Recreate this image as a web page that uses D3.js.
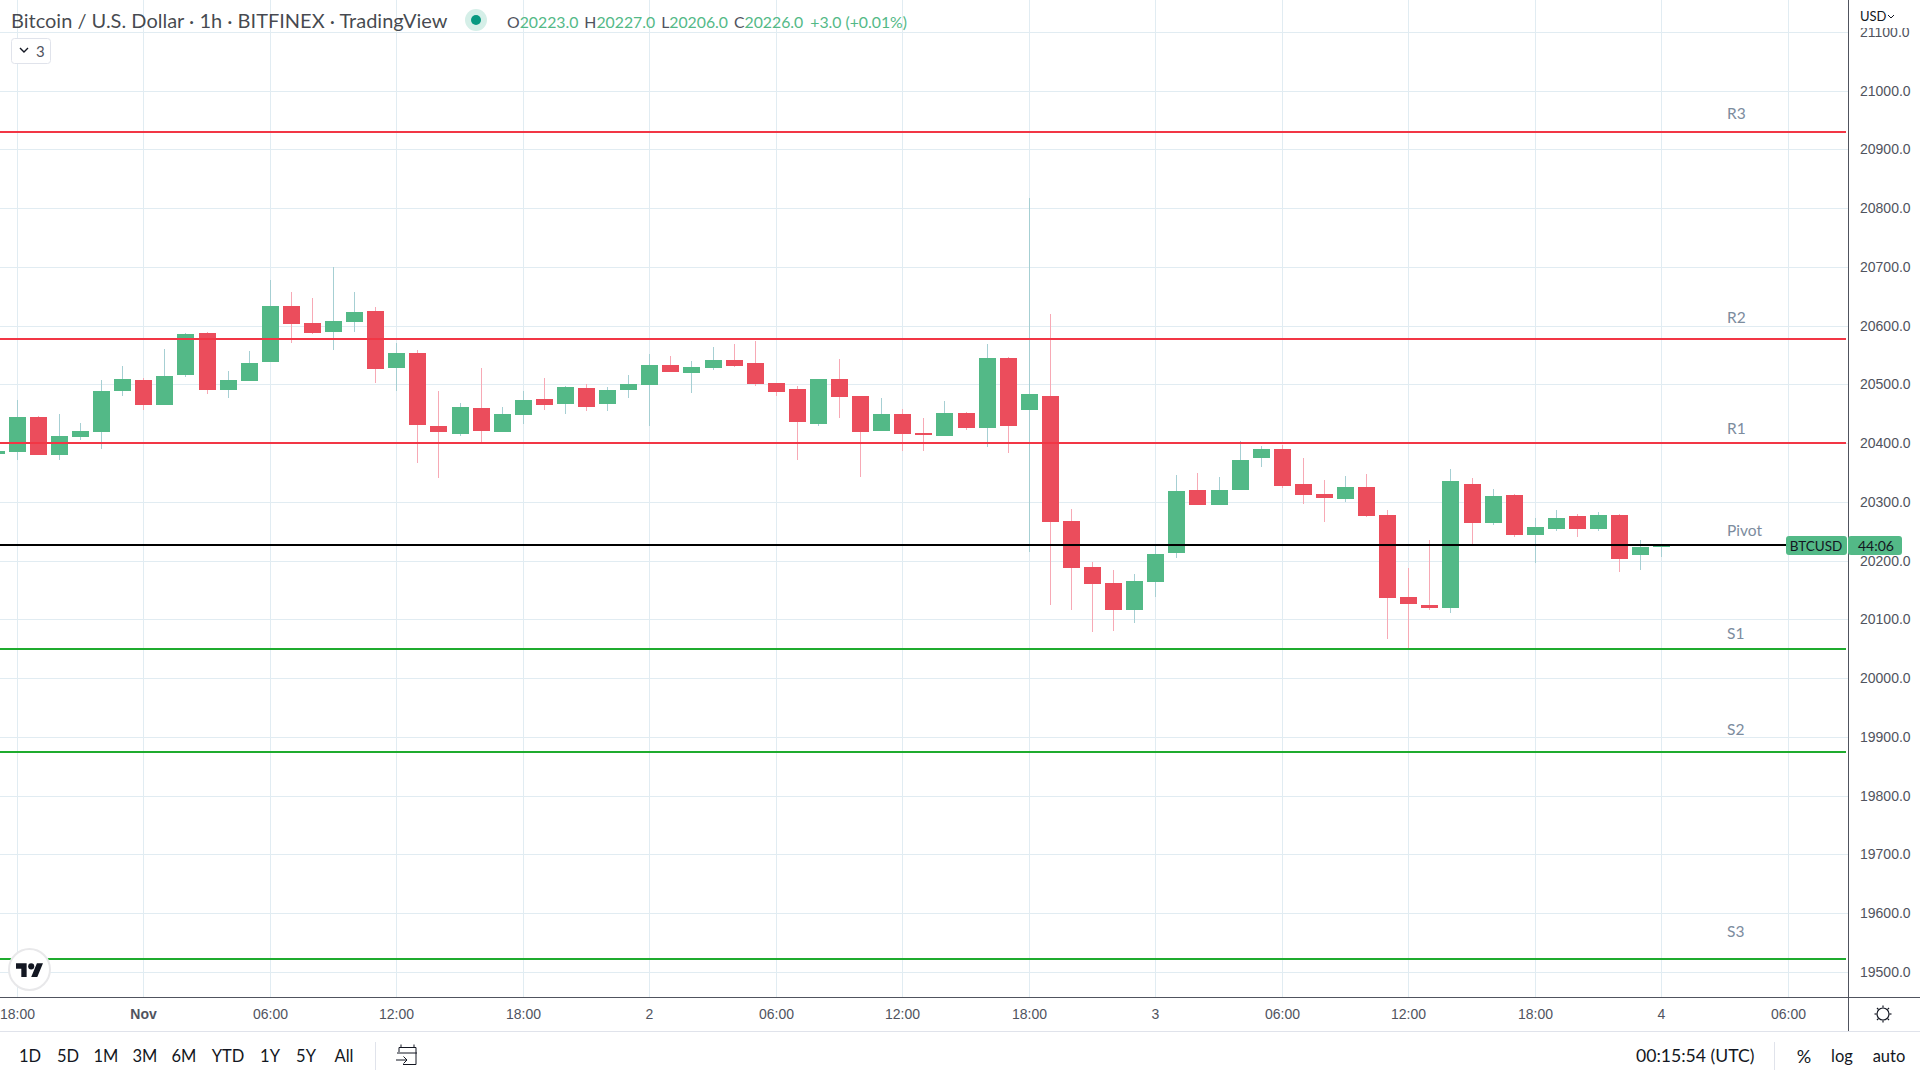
<!DOCTYPE html>
<html>
<head>
<meta charset="utf-8">
<title>BTCUSD 1h</title>
<script src="https://cdn.jsdelivr.net/npm/d3@7"></script>
<style>
    html, body { margin: 0; padding: 0; background: #fff; overflow: hidden; }
    svg { display: block; font-family: "Lato", sans-serif; }
    .axis .domain { display: none; }
    .grid line { stroke: #e1ecf2; shape-rendering: crispEdges; }
    .grid text { display: none; }
    .grid .domain { display: none; }
    .ticks text { fill: #50535e; font-size: 14px; }
    .bar text { fill: #131722; font-size: 16.5px; }
</style>
</head>
<body>
<svg id="chart" width="1920" height="1080"></svg>
<script>
// candles start one hour before the 18:00 tick on the left edge
var firstHour = -1;
var opens = [20381.8, 20384.6, 20444.2, 20379.5, 20410.2, 20418.7, 20488.5, 20507.2, 20464.6, 20515.7,
    20587.2, 20490.2, 20505.5, 20537.8, 20633.2, 20604.2, 20588.9, 20605.9, 20624.6, 20527.6,
    20553.2, 20428.9, 20415.3, 20459.5, 20418.7, 20447.6, 20474.9, 20466.3, 20493.6, 20466.3,
    20490.2, 20498.7, 20532.7, 20519.1, 20527.6, 20541.2, 20536.1, 20502.1, 20491.9, 20432.3,
    20508.9, 20480, 20420.4, 20449.3, 20417, 20411.9, 20451, 20425.5, 20544.6, 20456.1,
    20480, 20267.2, 20188.9, 20161.6, 20115.7, 20163.3, 20212.7, 20319.9, 20294.4, 20319.9,
    20374.4, 20389.7, 20330.2, 20313.1, 20304.6, 20325, 20277.4, 20137.8, 20124.2, 20119.1,
    20330.2, 20263.8, 20311.5, 20243.4, 20253.6, 20275.7, 20253.6, 20277.4, 20209.3, 20223];
var highs = [20390, 20473.2, 20445.9, 20449.3, 20434, 20507.2, 20531, 20510.6, 20560, 20587.2,
    20588.9, 20522.5, 20556.6, 20677.4, 20657, 20646.8, 20699.5, 20657, 20631.4, 20570.2,
    20558.3, 20488.5, 20468, 20527.6, 20461.2, 20488.5, 20510.6, 20497, 20500.4, 20495.3,
    20515.7, 20551.4, 20548, 20539.5, 20563.4, 20568.5, 20573.6, 20502.1, 20497, 20508.9,
    20543, 20480, 20476.6, 20457.8, 20442.5, 20471.4, 20452.7, 20568.5, 20546.3, 20817,
    20619.5, 20287.6, 20197.4, 20183.8, 20176.9, 20224.6, 20345.5, 20348.9, 20342, 20403.3,
    20394.8, 20396.5, 20374.4, 20337, 20343.8, 20347.2, 20285.9, 20187.2, 20234.9, 20355.7,
    20340.4, 20321.7, 20313.2, 20272.3, 20285.9, 20279.1, 20282.5, 20279.1, 20234.9, 20227];
var lows = [20378, 20371, 20379.5, 20371, 20405.1, 20389.8, 20480, 20456.1, 20464.6, 20512.3,
    20483.4, 20476.6, 20505.5, 20537.8, 20570.2, 20585.5, 20558.3, 20588.9, 20502.1, 20488.5,
    20365.9, 20340.4, 20411.9, 20401.6, 20418.7, 20432.3, 20456.1, 20449.3, 20454.4, 20454.4,
    20476.6, 20428.9, 20520.8, 20485.1, 20524.2, 20529.3, 20497, 20480, 20371, 20428.9,
    20442.5, 20342.1, 20420.4, 20386.3, 20386.3, 20411.9, 20422.1, 20393.1, 20382.9, 20214.4,
    20124.2, 20115.7, 20078.2, 20079.9, 20093.5, 20137.8, 20204.2, 20294.4, 20294.4, 20319.9,
    20359.1, 20323.3, 20296.1, 20265.5, 20299.5, 20274, 20066.3, 20051, 20115.7, 20110.6,
    20228.1, 20260.4, 20240, 20195.7, 20250.2, 20240, 20250.2, 20180.4, 20183.8, 20206];
var closes = [20386.3, 20444.2, 20379.5, 20411.9, 20420.4, 20488.5, 20508.9, 20464.6, 20514, 20585.5,
    20490.2, 20507.2, 20536.1, 20633.2, 20602.5, 20587.2, 20607.6, 20623, 20525.9, 20553.2,
    20430.6, 20418.7, 20461.2, 20420.4, 20449.3, 20473.2, 20464.6, 20495.3, 20461.2, 20490.2,
    20500.4, 20532.7, 20520.8, 20529.3, 20541.2, 20531, 20500.4, 20486.8, 20435.7, 20508.9,
    20478.3, 20418.7, 20449.3, 20415.3, 20413.6, 20451, 20425.5, 20544.6, 20428.9, 20483.4,
    20265.5, 20187.2, 20159.9, 20115.7, 20165, 20211, 20318.2, 20294.4, 20319.9, 20371,
    20389.7, 20326.7, 20311.4, 20306.3, 20325, 20275.7, 20136.1, 20125.9, 20119.1, 20335.3,
    20263.8, 20309.8, 20243.4, 20257, 20272.3, 20253.6, 20277.4, 20202.5, 20223, 20226];

var pivotNames = ["R3", "R2", "R1", "Pivot", "S1", "S2", "S3"];
var pivotValues = [20929, 20577, 20400, 20226, 20049, 19874, 19522];
var pivotColors = ["#f23645", "#f23645", "#f23645", "#000000", "#1fab2e", "#1fab2e", "#1fab2e"];
var pivotLabelY = [113, 317, 428, 530, 633, 729, 931];

var priceTicks = [19500, 19600, 19700, 19800, 19900, 20000, 20100, 20200, 20300, 20400, 20500, 20600, 20700, 20800, 20900, 21000, 21100];
var timeTicks = [0, 6, 12, 18, 24, 30, 36, 42, 48, 54, 60, 66, 72, 78, 84];
var timeLabels = ["18:00", "Nov", "06:00", "12:00", "18:00", "2", "06:00", "12:00", "18:00", "3", "06:00", "12:00", "18:00", "4", "06:00"];

var rangeLabels = ["1D", "5D", "1M", "3M", "6M", "YTD", "1Y", "5Y", "All"];
var rangeCenters = [30, 68, 106, 145, 184, 228, 270, 306, 344];

var upColor = "#53b987", downColor = "#eb4d5c";
var upWick = "#a6cfd3", downWick = "#f7a9b5";

var svg = d3.select("#chart");
var plotRight = 1848, plotBottom = 997;

var x = d3.scaleLinear().domain([0, 84]).range([16.8, 1787.8]).interpolate(d3.interpolateRound);
var y = d3.scaleLinear().domain([19500, 21100]).range([971.75, 31.75]).interpolate(d3.interpolateRound);

// grid
svg.append("g").attr("class", "grid")
    .call(d3.axisLeft(y).tickValues(priceTicks).tickSize(-plotRight).tickFormat(""));
svg.append("g").attr("class", "grid")
    .attr("transform", "translate(0," + plotBottom + ")")
    .call(d3.axisBottom(x).tickValues(timeTicks).tickSize(-plotBottom).tickFormat(""));

// candles
var candles = d3.range(opens.length).map(function (i) {
    return { hour: firstHour + i, o: opens[i], h: highs[i], l: lows[i], c: closes[i] };
});
var candle = svg.append("g").selectAll("g").data(candles).enter().append("g")
    .attr("shape-rendering", "crispEdges");
candle.append("rect")
    .attr("x", function (d) { return x(d.hour); })
    .attr("width", 1)
    .attr("y", function (d) { return y(d.h); })
    .attr("height", function (d) { return y(d.l) - y(d.h); })
    .attr("fill", function (d) { return d.c >= d.o ? upWick : downWick; });
candle.append("rect")
    .attr("x", function (d) { return x(d.hour) - 8; })
    .attr("width", 17)
    .attr("y", function (d) { return y(Math.max(d.o, d.c)); })
    .attr("height", function (d) { return Math.max(1, Math.abs(y(d.o) - y(d.c))); })
    .attr("fill", function (d) { return d.c >= d.o ? upColor : downColor; });

// pivot levels
svg.append("g").selectAll("line").data(pivotValues).enter().append("line")
    .attr("x1", 0)
    .attr("x2", function (d, i) { return pivotNames[i] == "Pivot" ? 1787 : 1846; })
    .attr("y1", function (d) { return y(d); })
    .attr("y2", function (d) { return y(d); })
    .attr("stroke", function (d, i) { return pivotColors[i]; })
    .attr("stroke-width", 2)
    .attr("shape-rendering", "crispEdges");
svg.append("g").selectAll("text").data(pivotNames).enter().append("text")
    .attr("x", 1727)
    .attr("y", function (d, i) { return pivotLabelY[i]; })
    .attr("dominant-baseline", "central")
    .attr("fill", "#7c8c9e")
    .attr("font-size", 15.5)
    .text(function (d) { return d; });

// right price scale
svg.append("rect").attr("x", plotRight).attr("y", 0).attr("width", 72).attr("height", 1031).attr("fill", "#fff");
svg.append("g").attr("class", "axis ticks")
    .attr("transform", "translate(" + plotRight + ",0)")
    .call(d3.axisRight(y).tickValues(priceTicks).tickSize(0).tickPadding(12)
        .tickFormat(function (d) { return d3.format(".1f")(d); }));
// the top label is cut by the currency box
svg.append("rect").attr("x", plotRight + 1).attr("y", 0).attr("width", 71).attr("height", 28).attr("fill", "#fff");
svg.append("text").attr("x", 1860).attr("y", 16).attr("dominant-baseline", "central")
    .attr("font-size", 13).attr("fill", "#131722").text("USD");
svg.append("path").attr("d", "M1888 15l3 3 3-3").attr("fill", "none").attr("stroke", "#131722");

// bottom time scale
svg.append("rect").attr("x", 0).attr("y", plotBottom).attr("width", plotRight).attr("height", 34).attr("fill", "#fff");
var timeAxis = svg.append("g").attr("class", "axis ticks")
    .attr("transform", "translate(0," + plotBottom + ")")
    .call(d3.axisBottom(x).tickValues(timeTicks).tickSize(0).tickPadding(12)
        .tickFormat(function (d, i) { return timeLabels[i]; }));
timeAxis.selectAll("text").filter(function (d, i) { return timeLabels[i] == "Nov"; })
    .attr("font-weight", 700);

// frame
var frameColor = "#50535e";
svg.append("line").attr("x1", 0).attr("x2", 1920).attr("y1", plotBottom + 0.5).attr("y2", plotBottom + 0.5).attr("stroke", frameColor);
svg.append("line").attr("x1", plotRight + 0.5).attr("x2", plotRight + 0.5).attr("y1", 0).attr("y2", 1031).attr("stroke", frameColor);
svg.append("line").attr("x1", 0).attr("x2", 1920).attr("y1", 1031.5).attr("y2", 1031.5).attr("stroke", "#e0e3eb");

// last price tag
svg.append("rect").attr("x", 1786).attr("y", 536).attr("width", 61).attr("height", 19).attr("rx", 3).attr("fill", upColor);
svg.append("rect").attr("x", 1848).attr("y", 536).attr("width", 54).attr("height", 19).attr("rx", 3).attr("fill", upColor);
svg.append("text").attr("x", 1816).attr("y", 545.5).attr("text-anchor", "middle").attr("dominant-baseline", "central")
    .attr("font-size", 13.5).attr("fill", "#131722").text("BTCUSD");
svg.append("text").attr("x", 1876).attr("y", 545.5).attr("text-anchor", "middle").attr("dominant-baseline", "central")
    .attr("font-size", 14).attr("fill", "#131722").text("44:06");

// header
svg.append("text").attr("x", 11).attr("y", 20).attr("dominant-baseline", "central")
    .attr("font-size", 20).attr("fill", "#131722").attr("fill-opacity", 0.8)
    .text("Bitcoin / U.S. Dollar \u00b7 1h \u00b7 BITFINEX \u00b7 TradingView");
svg.append("circle").attr("cx", 476).attr("cy", 20).attr("r", 11).attr("fill", "#d5efe8");
svg.append("circle").attr("cx", 476).attr("cy", 20).attr("r", 5).attr("fill", "#089981");

var ohlc = svg.append("text").attr("x", 507).attr("y", 20.5).attr("dominant-baseline", "central").attr("font-size", 15.8);
[["O", "20223.0"], ["H", "20227.0"], ["L", "20206.0"], ["C", "20226.0"]].forEach(function (p, i) {
    ohlc.append("tspan").attr("dx", i ? 6 : 0).attr("fill", "#50535e").text(p[0]);
    ohlc.append("tspan").attr("fill", upColor).text(p[1]);
});
ohlc.append("tspan").attr("dx", 7).attr("fill", upColor).text("+3.0 (+0.01%)");

svg.append("rect").attr("x", 11.5).attr("y", 38.5).attr("width", 39).attr("height", 25).attr("rx", 3)
    .attr("fill", "#fff").attr("stroke", "#e0e3eb");
svg.append("path").attr("d", "M20 48l4 4 4-4").attr("fill", "none").attr("stroke", "#131722").attr("stroke-width", 1.4);
svg.append("text").attr("x", 36).attr("y", 50.5).attr("dominant-baseline", "central")
    .attr("font-size", 15).attr("fill", "#50535e").text("3");

// logo
svg.append("circle").attr("cx", 29.5).attr("cy", 969.5).attr("r", 20.5).attr("fill", "#fff").attr("stroke", "#e8e8ea").attr("stroke-width", 2);
var logo = svg.append("g").attr("transform", "translate(16,960.3) scale(0.76)").attr("fill", "#131722");
logo.append("path").attr("d", "M14 22H7V11H0V4h14v18zM28 22h-8l7.5-18h8L28 22z");
logo.append("circle").attr("cx", 20).attr("cy", 8).attr("r", 4);

// bottom toolbar
var bar = svg.append("g").attr("class", "bar");
bar.selectAll("text.range").data(rangeLabels).enter().append("text")
    .attr("class", "range")
    .attr("x", function (d, i) { return rangeCenters[i]; })
    .attr("y", 1055.5)
    .attr("text-anchor", "middle").attr("dominant-baseline", "central")
    .text(function (d) { return d; });
bar.append("text").attr("x", 1636).attr("y", 1055.5).attr("dominant-baseline", "central").style("font-size", "17.6px").text("00:15:54 (UTC)");
bar.append("text").attr("x", 1804).attr("y", 1055.5).attr("text-anchor", "middle").attr("dominant-baseline", "central").style("font-size", "18px").text("%");
bar.append("text").attr("x", 1842).attr("y", 1055.5).attr("text-anchor", "middle").attr("dominant-baseline", "central").text("log");
bar.append("text").attr("x", 1889).attr("y", 1055.5).attr("text-anchor", "middle").attr("dominant-baseline", "central").text("auto");
svg.append("line").attr("x1", 375.5).attr("x2", 375.5).attr("y1", 1042).attr("y2", 1070).attr("stroke", "#e0e3eb");
svg.append("line").attr("x1", 1774.5).attr("x2", 1774.5).attr("y1", 1042).attr("y2", 1070).attr("stroke", "#e0e3eb");

// calendar icon
svg.append("path")
    .attr("d", "M399 1052v-4.5h17v17h-13M401 1047v-2.5M414 1047v-2.5M397 1053h20M396 1060h11M403.5 1056.5l3.5 3.5-3.5 3.5")
    .attr("fill", "none").attr("stroke", "#131722");

// settings icon
var gear = svg.append("g").attr("transform", "translate(1883,1014)").attr("fill", "none").attr("stroke", "#131722").attr("stroke-width", 1.2);
gear.append("circle").attr("r", 6);
d3.range(8).forEach(function (k) {
    var a = k * Math.PI / 4;
    gear.append("line").attr("x1", 6.5 * Math.cos(a)).attr("y1", 6.5 * Math.sin(a))
        .attr("x2", 8.5 * Math.cos(a)).attr("y2", 8.5 * Math.sin(a));
});
</script>
</body>
</html>
